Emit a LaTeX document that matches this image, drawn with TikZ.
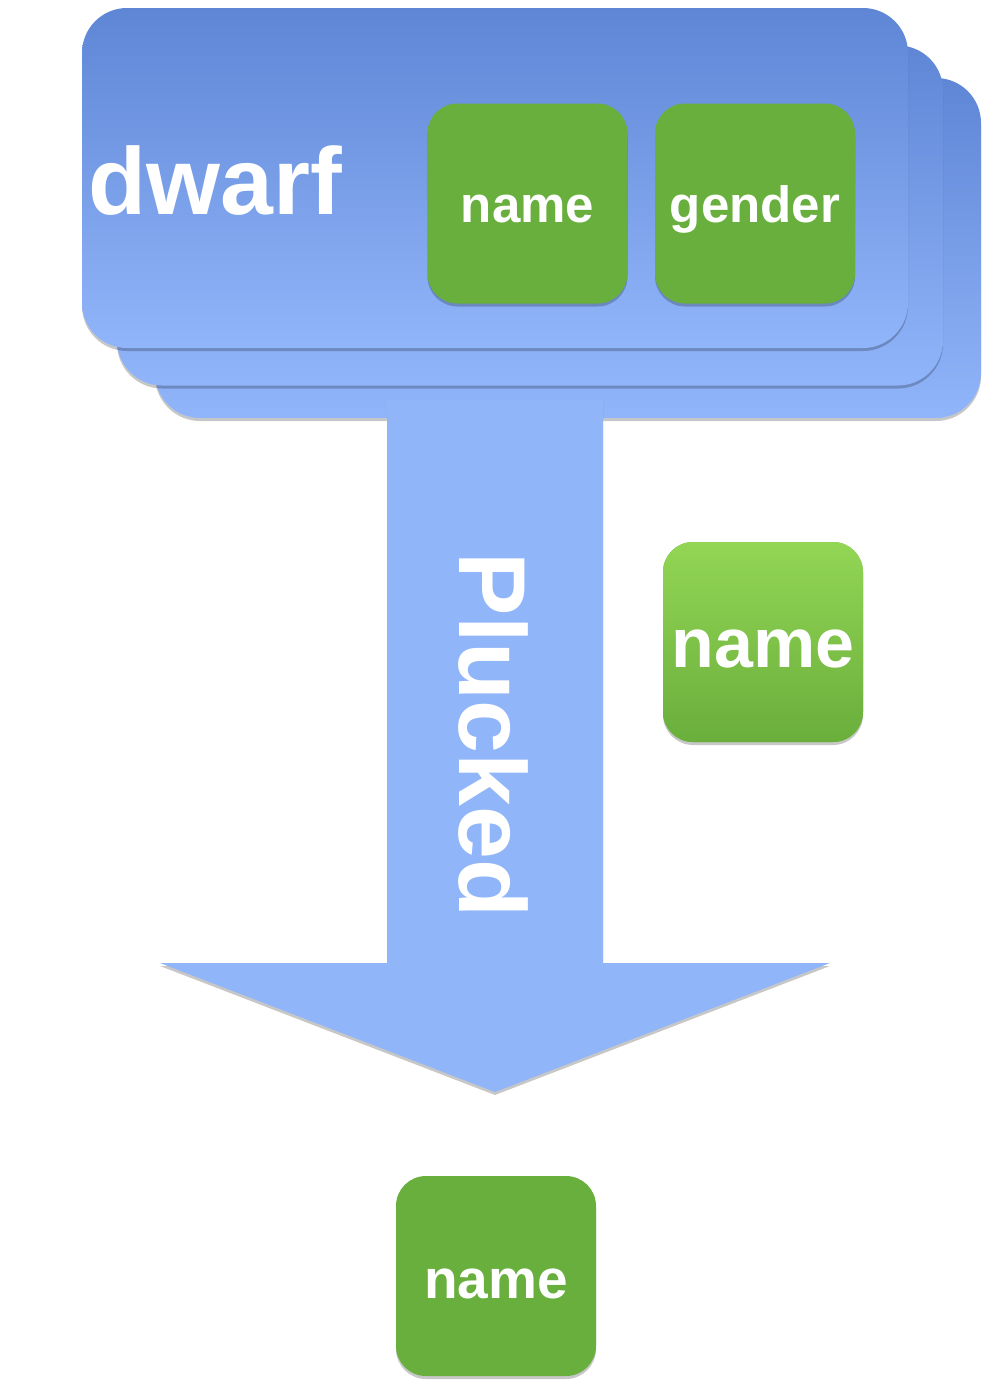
\documentclass[tikz,border=0pt]{standalone}
\usepackage{fontspec}
\setmainfont{Liberation Sans}
\usetikzlibrary{shadows}
\definecolor{bluetop}{HTML}{5E86D5}
\definecolor{bluebot}{HTML}{91B5FA}
\definecolor{arrowblue}{HTML}{90B5F9}
\definecolor{grn}{HTML}{68AF3D}
\definecolor{grntop}{HTML}{93D655}
\definecolor{grnbot}{HTML}{6AAE3C}
\tikzset{
 softshadow/.style={drop shadow={shadow xshift=0pt,shadow yshift=-3pt,opacity=0.22,fill=black}},
 card/.style={rectangle, rounded corners=45pt, minimum width=826pt, minimum height=340pt,
   top color=bluetop, bottom color=bluebot, draw=none, softshadow, inner sep=0pt},
 tile/.style={rectangle, rounded corners=30pt, minimum width=200pt, minimum height=200pt,
   fill=grn, draw=none, softshadow, inner sep=0pt, text=white, text depth=0pt,
   font=\bfseries\fontsize{51}{60}\selectfont},
 bigtext/.style={inner sep=0pt, text=white, font=\bfseries\fontsize{95}{100}\selectfont},
}
\begin{document}
\begin{tikzpicture}[x=1pt,y=-1pt]
\useasboundingbox (0,0) rectangle (994,1392);
% stacked dwarf cards
\node[card] (back) at (568,248) {};
\node[card] (middle) at (530,215.5) {};
\node[card] (front) at (495,178) {};
\node[bigtext, anchor=base west] (dwarf) at (88.5,214) {dwarf};
\node[tile, text height=37pt] (n1) at (527.5,203.5) {name};
\node[tile, text height=37pt] (g1) at (755,203.5) {gender};
% big arrow
\path[fill=arrowblue, softshadow]
  (387,400) -- (603,400) -- (603,963) -- (830,963) -- (495,1092)
  -- (160,963) -- (387,963) -- cycle;
\node[bigtext, rotate=-90] (plucked) at (493.5,735) {Plucked};
% plucked name
\node[tile, top color=grntop, bottom color=grnbot, text height=50pt,
  font=\bfseries\fontsize{70}{80}\selectfont] (n2) at (763,642) {name};
% result
\node[tile, text height=44pt, font=\bfseries\fontsize{55}{64}\selectfont] (n3) at (496,1276) {name};
\end{tikzpicture}
\end{document}
